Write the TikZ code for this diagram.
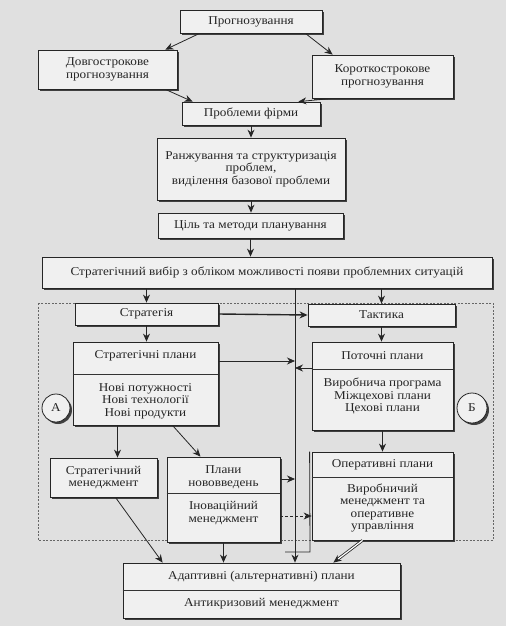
\documentclass[tikz,border=0pt]{standalone}
\usepackage{fontspec}
\setmainfont{Liberation Serif}[FakeStretch=1.1]
\usetikzlibrary{arrows.meta, positioning, shadows}
\tikzset{%
	plan box/.style={
		rectangle,
		draw=black!85,
		fill=black!6,
		text=black!85,
		align=center,
		inner sep=0pt,
		font=\fontsize{12}{12.5}\selectfont,
		drop shadow={shadow xshift=2pt, shadow yshift=-2pt, fill=black!75, opacity=1}
	},
	plan text/.style={
		align=center,
		text=black!85,
		inner sep=0pt,
		font=\fontsize{12}{12.5}\selectfont
	},
	plan arrow/.style={
		draw=black!85,
		-{Stealth[length=8pt, width=7pt]}
	},
}
\begin{document}
\begin{tikzpicture}[x=1pt, y=-1pt, line width=0.8pt]
	\useasboundingbox (0,0) rectangle (506,626);
	\fill[black!12] (0,0) rectangle (506,626);
	% dashed frame round both branches
	\draw[black!60, dash pattern=on 2pt off 1.5pt] (38,303) rectangle (493,540);
	
	% upper chain
	\node[plan box, minimum width=142pt, minimum height=23pt] (prog) at (251,21.5) {Прогнозування};
	\node[plan box, minimum width=139pt, minimum height=39pt] (dovg) at (107.5,69.5) {Довгострокове\\прогнозування};
	\node[plan box, minimum width=141pt, minimum height=43pt] (korot) at (382.5,76.5) {Короткострокове\\прогнозування};
	\node[plan box, minimum width=138pt, minimum height=23pt] (probl) at (251,113.5) {Проблеми фірми};
	\node[plan box, minimum width=188pt, minimum height=62pt] (rank) at (251,169) {Ранжування та структуризація\\проблем,\\виділення базової проблеми};
	\node[plan box, minimum width=185pt, minimum height=25pt] (tsil) at (250.5,225.5) {Ціль та методи планування};
	\node[plan box, minimum width=450pt, minimum height=31pt] (vybir) at (267,272.5) {Стратегічний вибір з обліком можливості появи проблемних ситуацій};
	
	% branch A
	\node[plan box, minimum width=143pt, minimum height=22pt] (strat) at (146.5,314) {Стратегія};
	\node[plan box, minimum width=145pt, minimum height=83pt] (stplan) at (145.5,383.5) {};
	\node[plan text] (stplan top) at (145.5,356) {Стратегічні плани};
	\node[plan text] (stplan bottom) at (145.5,401) {Нові потужності\\Нові технології\\Нові продукти};
	\draw[black!80] (stplan.west |- 0,374) -- (stplan.east |- 0,374);
	\node[plan box, minimum width=107pt, minimum height=39pt] (stmen) at (103.5,477.5) {Стратегічний\\менеджмент};
	\node[plan box, minimum width=113pt, minimum height=85pt] (novov) at (223.5,499.5) {};
	\node[plan text] (novov top) at (223.5,477) {Плани\\нововведень};
	\node[plan text] (novov bottom) at (223.5,513) {Іноваційний\\менеджмент};
	\draw[black!80] (novov.west |- 0,493) -- (novov.east |- 0,493);
	\node[plan box, circle, minimum size=28pt] (circA) at (56,408) {А};
	
	% branch B
	\node[plan box, minimum width=147pt, minimum height=22pt] (takt) at (381.5,315) {Тактика};
	\node[plan box, minimum width=141pt, minimum height=88pt] (potoch) at (382.5,386) {};
	\node[plan text] (potoch top) at (382.5,356) {Поточні плани};
	\node[plan text] (potoch bottom) at (382.5,396) {Виробнича програма\\Міжцехові плани\\Цехові плани};
	\draw[black!80] (potoch.west |- 0,369) -- (potoch.east |- 0,369);
	\node[plan box, minimum width=141pt, minimum height=88pt] (operat) at (382.5,496) {};
	\node[plan text] (operat top) at (382.5,465) {Оперативні плани};
	\node[plan text] (operat bottom) at (382.5,508) {Виробничий\\менеджмент та\\оперативне\\управління};
	\draw[black!80] (operat.west |- 0,477) -- (operat.east |- 0,477);
	\node[plan box, circle, minimum size=30pt] (circB) at (472,408) {Б};
	
	% result
	\node[plan box, minimum width=277pt, minimum height=55pt] (adapt) at (261.5,590.5) {};
	\node[plan text] (adapt top) at (261.5,577) {Адаптивні (альтернативні) плани};
	\node[plan text] (adapt bottom) at (261.5,604) {Антикризовий менеджмент};
	\draw[black!80] (adapt.west |- 0,590) -- (adapt.east |- 0,590);
	
	\coordinate (spine) at (295,300);
	\coordinate (bend) at (310,552);
	
	% connectors
	\draw[plan arrow] ([xshift=20pt]prog.south west) -- ([xshift=-12pt]dovg.north east);
	\draw[plan arrow] ([xshift=-17pt]prog.south east) -- ([xshift=21pt]korot.north west);
	\draw[plan arrow] ([xshift=-12pt]dovg.south east) -- ([xshift=11pt]probl.north west);
	\draw[plan arrow] ([xshift=21pt]korot.south west) -- ([xshift=-22pt]probl.north east);
	\draw[plan arrow] (probl.south) -- (rank.north);
	\draw[plan arrow] (rank.south) -- (rank.south |- tsil.north);
	\draw[plan arrow] (tsil.south) -- (tsil.south |- vybir.north);
	\draw[plan arrow] (strat.north |- vybir.south) -- (strat.north);
	\draw[plan arrow] (takt.north |- vybir.south) -- (takt.north);
	\draw[plan arrow, line width=1.4pt] (strat.east) -- (takt.west);
	\draw[plan arrow] (strat.south) -- (strat.south |- stplan.north);
	\draw[plan arrow] (takt.south) -- (takt.south |- potoch.north);
	\draw[plan arrow] (potoch.south) -- (operat.north);
	\draw[plan arrow] (vybir.south -| spine) -- (adapt.north -| spine);
	\draw[plan arrow] ([yshift=22.5pt]stplan.east) -- ([yshift=22.5pt]stplan.east -| spine);
	\draw[plan arrow] ([yshift=18pt]potoch.west) -- ([yshift=18pt]potoch.west -| spine);
	\draw[plan arrow] ([xshift=-28pt]stplan.south) -- ([xshift=-28pt]stplan.south |- stmen.north);
	\draw[plan arrow] ([xshift=27pt]stplan.south) -- ([xshift=-23pt]novov.north);
	\draw[plan arrow] ([yshift=20.5pt]novov.east) -- ([yshift=20.5pt]novov.east -| spine);
	\draw[plan arrow, densely dashed] ([yshift=-16.5pt]novov.east) -- ([yshift=-16.5pt]novov.east -| operat.west);
	\draw[plan arrow] ([xshift=12pt]stmen.south) -- ([xshift=40pt]adapt.north west);
	\draw[plan arrow] (novov.south) -- (novov.south |- adapt.north);
	\draw[plan arrow, double, double distance=1.2pt] ([xshift=-20pt]operat.south) -- ([xshift=-67pt]adapt.north east);
	\draw[black!85] ([xshift=-2pt]operat.north west) -- (bend) -- ++(-25,0);
\end{tikzpicture}
\end{document}
